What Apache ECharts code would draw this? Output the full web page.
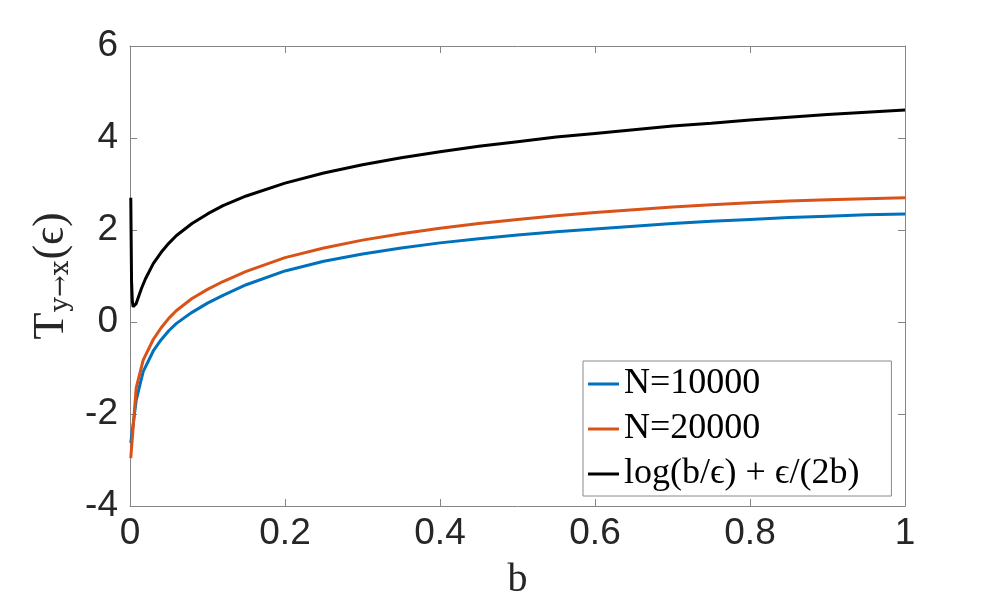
<!DOCTYPE html>
<html>
<head>
<meta charset="utf-8">
<script src="https://cdn.jsdelivr.net/npm/echarts@6/dist/echarts.min.js"></script>
<style>
html,body{margin:0;padding:0;background:#fff;}
#chart{width:1000px;height:611px;}
</style>
</head>
<body>
<div id="chart"></div>
<script>
// ---- data ----
const seriesNames = ['N=10000', 'N=20000', 'log(b/ϵ) + ϵ/(2b)'];

// sample b values for the two N curves
const bN = [0.001, 0.008, 0.017, 0.03, 0.04, 0.05, 0.06, 0.08, 0.1, 0.12, 0.15, 0.2, 0.25, 0.3, 0.35,
            0.4, 0.45, 0.5, 0.55, 0.6, 0.65, 0.7, 0.75, 0.8, 0.85, 0.9, 0.95, 1.0];
const tN10000 = [-2.63, -1.70, -1.08, -0.63, -0.39, -0.19, -0.03, 0.21, 0.41, 0.58, 0.81, 1.11, 1.32, 1.48, 1.61,
                 1.72, 1.81, 1.89, 1.96, 2.02, 2.08, 2.14, 2.19, 2.23, 2.27, 2.30, 2.33, 2.35];
const tN20000 = [-2.96, -1.43, -0.83, -0.38, -0.13, 0.08, 0.25, 0.51, 0.71, 0.88, 1.10, 1.40, 1.61, 1.78, 1.92,
                 2.04, 2.14, 2.23, 2.31, 2.38, 2.44, 2.50, 2.55, 2.59, 2.63, 2.66, 2.68, 2.70];

// sample b values for the black reference curve
const bRef = [0.001, 0.002, 0.003, 0.004, 0.005, 0.006, 0.008, 0.01, 0.015, 0.02, 0.03, 0.04, 0.05, 0.06, 0.08,
              0.1, 0.12, 0.15, 0.2, 0.25, 0.3, 0.35, 0.4, 0.45, 0.5, 0.55, 0.6, 0.65, 0.7, 0.75, 0.8, 0.85, 0.9, 0.95, 1.0];
const tRef = [2.70, 0.89, 0.46, 0.33, 0.31, 0.32, 0.40, 0.50, 0.74, 0.94, 1.27, 1.51, 1.71, 1.88, 2.14,
              2.35, 2.53, 2.74, 3.02, 3.24, 3.42, 3.57, 3.70, 3.82, 3.92, 4.02, 4.10, 4.18, 4.26, 4.32, 4.39, 4.45, 4.51, 4.56, 4.61];

const xTicks = {min: 0, max: 1, interval: 0.2};
const yTicks = {min: -4, max: 6, interval: 2};

// ---- chart ----
const pair = (xs, ys) => xs.map((x, i) => [x, ys[i]]);
const axisGray = '#858585';
const labelColor = '#262626';
const sansFont = "'Liberation Sans', Arial, Helvetica, sans-serif";
const serifFont = "'Liberation Serif', 'DejaVu Serif', serif";
const subFont = "'DejaVu Serif', 'Liberation Serif', serif";

function baseAxis(extra) {
  return Object.assign({
    type: 'value',
    axisLine: {show: true, onZero: false, lineStyle: {color: axisGray, width: 1}},
    axisTick: {show: true, inside: true, length: 7, lineStyle: {color: axisGray, width: 1}},
    splitLine: {show: false},
    axisLabel: {show: false}
  }, extra);
}

const chart = echarts.init(document.getElementById('chart'), null, {renderer: 'canvas'});
chart.setOption({
  animation: false,
  backgroundColor: '#ffffff',
  grid: {left: 130, right: 95, top: 46, bottom: 105, containLabel: false},
  xAxis: [
    baseAxis({
      position: 'bottom', min: xTicks.min, max: xTicks.max, interval: xTicks.interval,
      axisLabel: {show: true, color: labelColor, fontSize: 37, fontFamily: sansFont, margin: 9},
      name: 'b', nameLocation: 'middle', nameGap: 54,
      nameTextStyle: {color: labelColor, fontSize: 40, fontFamily: serifFont}
    }),
    baseAxis({position: 'top', min: xTicks.min, max: xTicks.max, interval: xTicks.interval})
  ],
  yAxis: [
    baseAxis({
      position: 'left', min: yTicks.min, max: yTicks.max, interval: yTicks.interval,
      axisLabel: {show: true, color: labelColor, fontSize: 37, fontFamily: sansFont, margin: 12},
      name: '{t|T}{s|y→x}{t|(ϵ)}', nameLocation: 'middle', nameRotate: 90, nameGap: 54,
      nameTextStyle: {
        color: labelColor, fontFamily: serifFont,
        rich: {
          t: {fontSize: 44, lineHeight: 44, fontFamily: serifFont, color: labelColor, verticalAlign: 'top'},
          s: {fontSize: 26, lineHeight: 26, fontFamily: subFont, color: labelColor, verticalAlign: 'top', padding: [19, 1, 0, 1]}
        }
      }
    }),
    baseAxis({position: 'right', min: yTicks.min, max: yTicks.max, interval: yTicks.interval})
  ],
  legend: {
    show: true, orient: 'vertical', left: 583, top: 361,
    data: seriesNames,
    icon: 'rect', itemWidth: 31, itemHeight: 3, itemGap: 9, itemTextGap: 3,
    padding: [5, 32, 4, 5],
    backgroundColor: '#ffffff', borderColor: '#8a8a8a', borderWidth: 1, borderRadius: 0,
    textStyle: {color: '#000000', fontSize: 36, lineHeight: 36, fontFamily: serifFont}
  },
  series: [
    {name: seriesNames[0], type: 'line', data: pair(bN, tN10000), showSymbol: false, symbol: 'none',
     lineStyle: {color: '#0072BD', width: 3}, itemStyle: {color: '#0072BD'}, z: 2},
    {name: seriesNames[1], type: 'line', data: pair(bN, tN20000), showSymbol: false, symbol: 'none',
     lineStyle: {color: '#D95319', width: 3}, itemStyle: {color: '#D95319'}, z: 3},
    {name: seriesNames[2], type: 'line', data: pair(bRef, tRef), showSymbol: false, symbol: 'none',
     lineStyle: {color: '#000000', width: 3}, itemStyle: {color: '#000000'}, z: 4}
  ]
});
</script>
</body>
</html>
